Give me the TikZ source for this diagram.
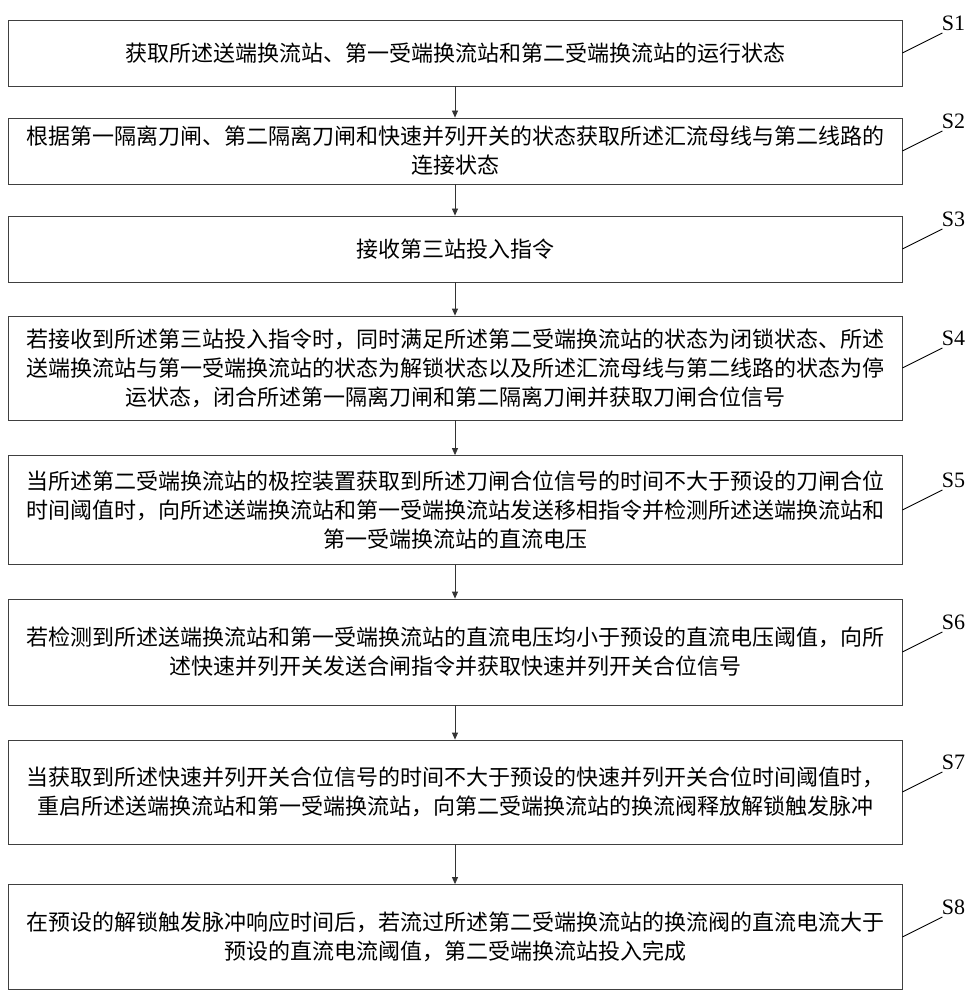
\documentclass[tikz,border=0pt]{standalone}
\usepackage{fontspec}
\setmainfont{Liberation Serif}
\newfontfamily\cjk{Noto Sans CJK SC}
\usetikzlibrary{arrows.meta}

\begin{document}
\begin{tikzpicture}[x=1pt,y=-1pt,
  stepbox/.style={draw=black!75,line width=0.8pt,minimum width=894pt,text width=872pt,
    align=center,inner sep=0pt,font=\cjk\fontsize{22pt}{29pt}\selectfont},
  arr/.style={-{Triangle[length=7pt,width=6pt]},line width=0.8pt,black!80},
  lead/.style={line width=0.9pt},
  tag/.style={anchor=south west,inner sep=1pt,xshift=-2pt,yshift=1pt,font=\fontsize{22pt}{24pt}\selectfont}]
\useasboundingbox (0,0) rectangle (970,1000);

\node[stepbox,minimum height=66pt] (s1) at (455,53) {获取所述送端换流站、第一受端换流站和第二受端换流站的运行状态};
\node[stepbox,minimum height=66pt] (s2) at (455,151) {根据第一隔离刀闸、第二隔离刀闸和快速并列开关的状态获取所述汇流母线与第二线路的\\连接状态};
\node[stepbox,minimum height=66pt] (s3) at (455,249) {接收第三站投入指令};
\node[stepbox,minimum height=104pt] (s4) at (455,368) {若接收到所述第三站投入指令时，同时满足所述第二受端换流站的状态为闭锁状态、所述\\送端换流站与第一受端换流站的状态为解锁状态以及所述汇流母线与第二线路的状态为停\\运状态，闭合所述第一隔离刀闸和第二隔离刀闸并获取刀闸合位信号};
\node[stepbox,minimum height=109pt] (s5) at (455,510) {当所述第二受端换流站的极控装置获取到所述刀闸合位信号的时间不大于预设的刀闸合位\\时间阈值时，向所述送端换流站和第一受端换流站发送移相指令并检测所述送端换流站和\\第一受端换流站的直流电压};
\node[stepbox,minimum height=106pt] (s6) at (455,652) {若检测到所述送端换流站和第一受端换流站的直流电压均小于预设的直流电压阈值，向所\\述快速并列开关发送合闸指令并获取快速并列开关合位信号};
\node[stepbox,minimum height=104pt] (s7) at (455,792) {当获取到所述快速并列开关合位信号的时间不大于预设的快速并列开关合位时间阈值时，\\重启所述送端换流站和第一受端换流站，向第二受端换流站的换流阀释放解锁触发脉冲};
\node[stepbox,minimum height=105pt] (s8) at (455,937) {在预设的解锁触发脉冲响应时间后，若流过所述第二受端换流站的换流阀的直流电流大于\\预设的直流电流阈值，第二受端换流站投入完成};

\foreach \a/\b in {s1/s2,s2/s3,s3/s4,s4/s5,s5/s6,s6/s7,s7/s8}
  \draw[arr] (\a) -- (\b);

\foreach \i in {1,...,8}
  \draw[lead] (s\i.east) -- ++(40,-20) node[tag] (l\i) {S\i};
\end{tikzpicture}
\end{document}
